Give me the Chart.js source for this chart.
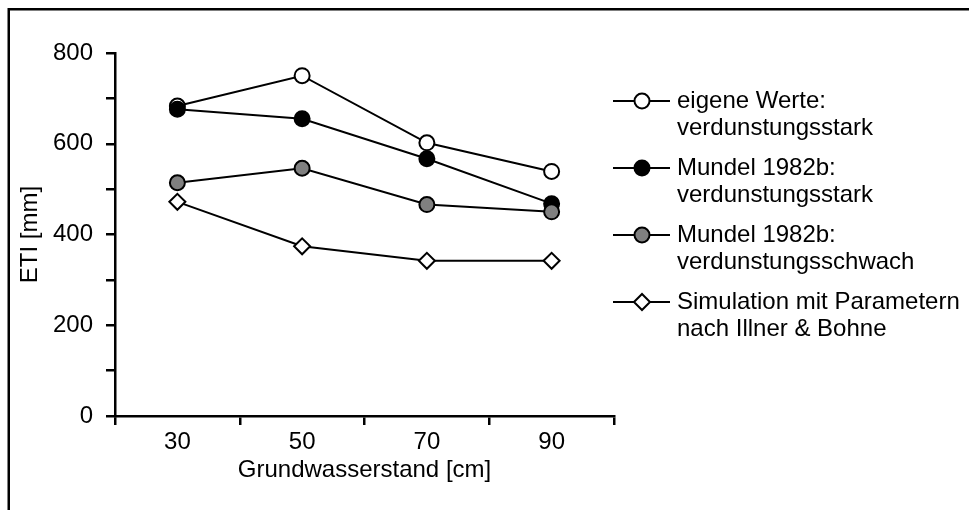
<!DOCTYPE html>
<html>
<head>
<meta charset="utf-8">
<script src="https://cdn.jsdelivr.net/npm/chart.js@4/dist/chart.umd.min.js"></script>
<style>
  html, body { margin: 0; padding: 0; background: #fff; }
  #wrap { width: 969px; height: 510px; position: relative; }
</style>
</head>
<body>
<div id="wrap"><canvas id="chart"></canvas></div>
<script>
// data
const grundwasser = ['30', '50', '70', '90'];
const eigeneWerte = [683, 750, 602, 539];
const mundelStark = [676, 655, 567, 468];
const mundelSchwach = [514, 546, 466, 450];
const simulation = [472, 374, 342, 342];
const legendLines = [
  ['eigene Werte:', 'verdunstungsstark'],
  ['Mundel 1982b:', 'verdunstungsstark'],
  ['Mundel 1982b:', 'verdunstungsschwach'],
  ['Simulation mit Parametern', 'nach Illner & Bohne'],
];

const FONT = '"Liberation Sans", Arial, sans-serif';
Chart.defaults.font.family = FONT;
Chart.defaults.font.size = 24;
Chart.defaults.color = '#000';

function series(label, data, fill, style, order) {
  return {
    label, data, order,
    borderColor: '#000',
    borderWidth: 2,
    pointStyle: style,
    pointRadius: style === 'rectRot' ? 8 : 7.5,
    pointBackgroundColor: fill,
    pointBorderColor: '#000',
    pointBorderWidth: 2,
    fill: false,
    tension: 0,
  };
}

// frame (top + left edge) and the line/marker legend on the right
const frameAndLegend = {
  id: 'frameAndLegend',
  afterDraw(chart) {
    const ctx = chart.ctx;
    ctx.save();
    ctx.fillStyle = '#000';
    ctx.fillRect(8, 8, 961, 2.5);
    ctx.fillRect(7.5, 8, 2.5, 502);

    ctx.font = '24px ' + FONT;
    ctx.textBaseline = 'middle';
    ctx.textAlign = 'left';
    chart.data.datasets.forEach((ds, i) => {
      const y = 101 + i * 67;
      ctx.strokeStyle = '#000';
      ctx.lineWidth = 2;
      ctx.beginPath();
      ctx.moveTo(613, y);
      ctx.lineTo(670, y);
      ctx.stroke();
      ctx.fillStyle = ds.pointBackgroundColor;
      ctx.strokeStyle = '#000';
      Chart.helpers.drawPoint(ctx, {
        pointStyle: ds.pointStyle, radius: ds.pointRadius, borderWidth: 2, rotation: 0,
      }, 642, y);
      ctx.fillStyle = '#000';
      legendLines[i].forEach((t, k) => ctx.fillText(t, 677, y + k * 27));
    });
    ctx.restore();
  },
};

new Chart(document.getElementById('chart'), {
  type: 'line',
  data: {
    labels: grundwasser,
    datasets: [
      series(legendLines[0].join(' '), eigeneWerte, '#fff', 'circle', 4),
      series(legendLines[1].join(' '), mundelStark, '#000', 'circle', 3),
      series(legendLines[2].join(' '), mundelSchwach, '#808080', 'circle', 2),
      series(legendLines[3].join(' '), simulation, '#fff', 'rectRot', 1),
    ],
  },
  options: {
    responsive: true,
    maintainAspectRatio: false,
    animation: false,
    events: [],
    layout: { padding: { top: 53, right: 355, left: 0, bottom: 0 } },
    plugins: { legend: { display: false }, tooltip: { enabled: false } },
    scales: {
      x: {
        offset: true,
        grid: { offset: true, drawOnChartArea: false, drawTicks: true, tickLength: 9, color: '#000', lineWidth: 2.5 },
        border: { color: '#000', width: 2.5 },
        ticks: { padding: 3, maxRotation: 0 },
        title: { display: true, text: 'Grundwasserstand [cm]', padding: { top: 0, bottom: 25 } },
        afterFit(scale) { scale.height = 94; },
      },
      y: {
        min: 0, max: 800,
        grid: { drawOnChartArea: false, drawTicks: true, tickLength: 9, color: '#000', lineWidth: 2.5 },
        border: { color: '#000', width: 2.5 },
        ticks: { stepSize: 100, padding: 13, callback: v => (v % 200 === 0 ? v : '') },
        title: { display: true, text: 'ETI [mm]', padding: { top: 16, bottom: 0 } },
        afterFit(scale) { scale.width = 115; },
      },
    },
  },
  plugins: [frameAndLegend],
});
</script>
</body>
</html>
